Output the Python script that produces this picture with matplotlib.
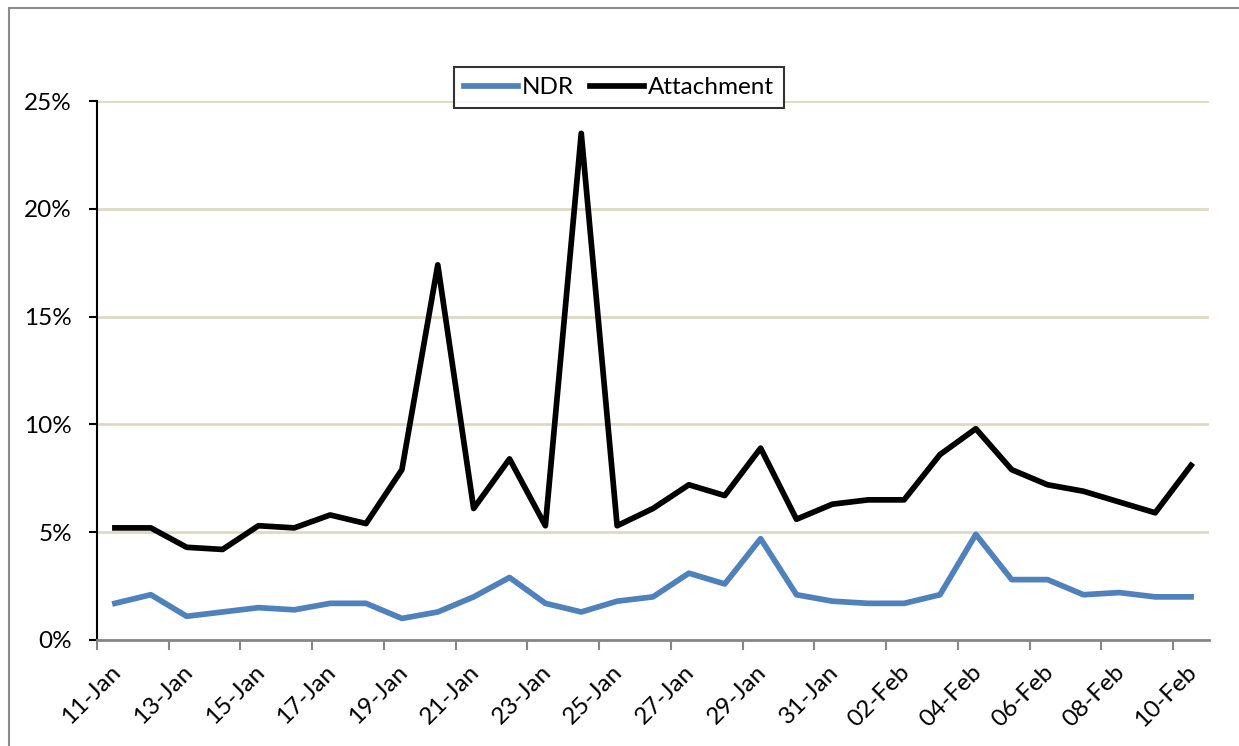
import matplotlib.pyplot as plt
from matplotlib.patches import Rectangle
from matplotlib.ticker import FixedLocator, PercentFormatter, NullFormatter

plt.rcParams['font.family'] = ['Lato', 'DejaVu Sans']
FS = 17.5

# Daily rates (%), 11-Jan .. 10-Feb
days = ['11-Jan', '12-Jan', '13-Jan', '14-Jan', '15-Jan', '16-Jan', '17-Jan', '18-Jan',
        '19-Jan', '20-Jan', '21-Jan', '22-Jan', '23-Jan', '24-Jan', '25-Jan', '26-Jan',
        '27-Jan', '28-Jan', '29-Jan', '30-Jan', '31-Jan', '01-Feb', '02-Feb', '03-Feb',
        '04-Feb', '05-Feb', '06-Feb', '07-Feb', '08-Feb', '09-Feb', '10-Feb']
ndr = [1.7, 2.1, 1.1, 1.3, 1.5, 1.4, 1.7, 1.7, 1.0, 1.3, 2.0, 2.9, 1.7, 1.3, 1.8, 2.0,
       3.1, 2.6, 4.7, 2.1, 1.8, 1.7, 1.7, 2.1, 4.9, 2.8, 2.8, 2.1, 2.2, 2.0, 2.0]
attachment = [5.2, 5.2, 4.3, 4.2, 5.3, 5.2, 5.8, 5.4, 7.9, 17.4, 6.1, 8.4, 5.3, 23.5, 5.3, 6.1,
              7.2, 6.7, 8.9, 5.6, 6.3, 6.5, 6.5, 8.6, 9.8, 7.9, 7.2, 6.9, 6.4, 5.9, 8.1]

W, H = 1239, 746
fig = plt.figure(figsize=(W / 100, H / 100), dpi=100)

# chart frame (only the top and left edges are inside the image)
fig.patches.append(Rectangle((9 / W, -0.1), 1.2, 1 - 8 / H + 0.1, transform=fig.transFigure,
                             fill=False, edgecolor='#8c8c8c', linewidth=1.5))

ax = fig.add_axes([97 / W, (H - 640) / H, (1209 - 97) / W, (640 - 101) / H])

x = [i + 0.5 for i in range(len(days))]
ax.plot(x, ndr, color='#4F81BD', lw=4.1, label='NDR', solid_joinstyle='round')
ax.plot(x, attachment, color='black', lw=4.1, label='Attachment', solid_joinstyle='round')

ax.set_xlim(0, len(days))
ax.set_ylim(0, 25)
ax.set_yticks(range(0, 26, 5))
ax.yaxis.set_major_formatter(PercentFormatter(decimals=0))
ax.grid(axis='y', color='#DDD9C3', lw=2)
ax.set_axisbelow(True)

# tick marks every 2 days on category boundaries
ax.xaxis.set_major_locator(FixedLocator(range(0, len(days), 2)))
ax.xaxis.set_major_formatter(NullFormatter())
ax.tick_params(axis='x', length=7, width=1.5, color='#868686')
ax.tick_params(axis='y', length=6, width=1.5, color='black', pad=12, labelsize=FS)

# slanted date labels, every other day
for xi, lab in zip(x[::2], days[::2]):
    ax.annotate(lab, xy=(xi, 0), xycoords=('data', 'axes fraction'),
                xytext=(5, -24), textcoords='offset points', fontsize=FS,
                rotation=45, rotation_mode='anchor', ha='right', va='baseline',
                annotation_clip=False)

for s in ['top', 'right']:
    ax.spines[s].set_visible(False)
ax.spines['left'].set_linewidth(1.5)
ax.spines['bottom'].set_color('#868686')
ax.spines['bottom'].set_linewidth(2)

leg = ax.legend(loc='upper left', bbox_to_anchor=((454 - 97) / 1112, (640 - 67) / 539),
                borderaxespad=0, ncol=2, fontsize=FS, frameon=True, fancybox=False,
                edgecolor='black', handlelength=2.2, handletextpad=0.15,
                columnspacing=0.7, borderpad=0.42)
leg.get_frame().set_linewidth(1.5)

fig.savefig('out.png', dpi=100)
